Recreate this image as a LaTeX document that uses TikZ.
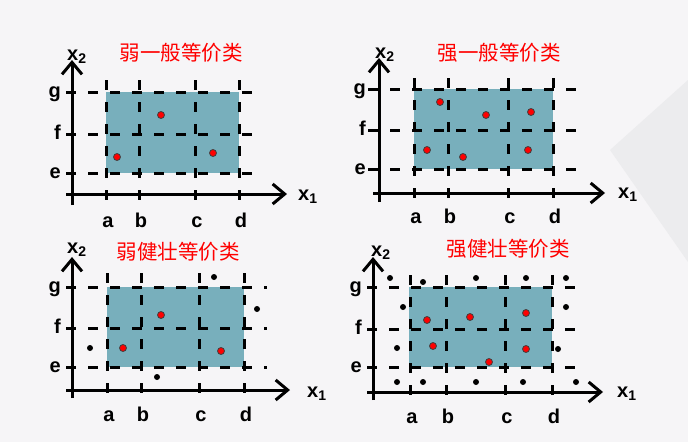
\documentclass[tikz,border=0pt]{standalone}
\usepackage{fontspec}
\usepackage{tikz}
\usepackage{xcolor}
\usetikzlibrary{arrows.meta}
\setmainfont{Liberation Sans}
\newfontfamily\cjk{Noto Sans CJK SC}
\definecolor{regioncol}{RGB}{120,175,188}
\definecolor{bgcol}{RGB}{246,245,247}
\definecolor{shadecol}{RGB}{236,236,238}

\begin{document}
\begin{tikzpicture}[x=1pt,y=-1pt,
		axis/.style={line width=3pt,-{Straight Barb[length=12pt,width=20pt]}},
		dline/.style={line width=3pt,dash pattern=on 10pt off 12pt},
		region/.style={fill=regioncol},
		lbl/.style={font=\bfseries\fontsize{20}{20}\selectfont,inner sep=0pt},
		ttl/.style={font=\cjk\fontsize{20.5}{20.5}\selectfont,text=red},
		rdot/.style={fill=red,draw=black!75,line width=0.8pt},
		bdot/.style={fill=black}]
		\useasboundingbox (0,0) rectangle (688,442);
		\fill[bgcol] (0,0) rectangle (688,442);
		\fill[shadecol] (610,150) -- (688,80) -- (688,262) -- cycle;
		% weak normal
		\fill[region] (106,92) rectangle (239,173);
		\draw[dline] (66,92)--(253,92);
		\draw[dline] (66,134)--(253,134);
		\draw[dline] (66,173)--(253,173);
		\draw[dline] (106,80)--(106,203);
		\draw[dline] (139,80)--(139,203);
		\draw[dline] (195,80)--(195,203);
		\draw[dline] (239,80)--(239,203);
		\draw[axis] (72,205)--(72,60);
		\draw[axis] (66,194)--(287,194);
		\node[lbl,anchor=base] (a1) at (108,227) {a};
		\node[lbl,anchor=base] (b1) at (141,227) {b};
		\node[lbl,anchor=base] (c1) at (197,227) {c};
		\node[lbl,anchor=base] (d1) at (241,227) {d};
		\node[lbl,anchor=base east] (g1) at (61,97) {g};
		\node[lbl,anchor=base east] (f1) at (61,139) {f};
		\node[lbl,anchor=base east] (e1) at (61,178) {e};
		\node[lbl,anchor=base west] (xa1) at (298,200) {x\textsubscript{1}};
		\node[lbl,anchor=base west] (xb1) at (67,60) {x\textsubscript{2}};
		\node[ttl] (t1) at (181,53) {弱一般等价类};
		\filldraw[rdot] (117,157) circle (3.5pt);
		\filldraw[rdot] (161,115) circle (3.5pt);
		\filldraw[rdot] (213,153) circle (3.5pt);
		% strong normal
		\fill[region] (414,89) rectangle (553,169);
		\draw[dline] (368,89)--(577,89);
		\draw[dline] (368,130)--(577,130);
		\draw[dline] (368,169)--(577,169);
		\draw[dline] (414,78)--(414,202);
		\draw[dline] (448,78)--(448,202);
		\draw[dline] (508,78)--(508,202);
		\draw[dline] (553,78)--(553,202);
		\draw[axis] (379,202)--(379,58);
		\draw[axis] (373,193)--(605,193);
		\node[lbl,anchor=base] (a2) at (416,223) {a};
		\node[lbl,anchor=base] (b2) at (450,223) {b};
		\node[lbl,anchor=base] (c2) at (510,223) {c};
		\node[lbl,anchor=base] (d2) at (555,223) {d};
		\node[lbl,anchor=base east] (g2) at (366,94) {g};
		\node[lbl,anchor=base east] (f2) at (366,135) {f};
		\node[lbl,anchor=base east] (e2) at (366,174) {e};
		\node[lbl,anchor=base west] (xa2) at (618,198) {x\textsubscript{1}};
		\node[lbl,anchor=base west] (xb2) at (375,58) {x\textsubscript{2}};
		\node[ttl] (t2) at (499,53) {强一般等价类};
		\filldraw[rdot] (440,102) circle (3.5pt);
		\filldraw[rdot] (486,115) circle (3.5pt);
		\filldraw[rdot] (531,112) circle (3.5pt);
		\filldraw[rdot] (427,150) circle (3.5pt);
		\filldraw[rdot] (463,157) circle (3.5pt);
		\filldraw[rdot] (528,150) circle (3.5pt);
		% weak robust
		\fill[region] (107,287) rectangle (244,367);
		\draw[dline] (66,287)--(267,287);
		\draw[dline] (66,328)--(267,328);
		\draw[dline] (66,367)--(267,367);
		\draw[dline] (107,273)--(107,398);
		\draw[dline] (141,273)--(141,398);
		\draw[dline] (199,273)--(199,398);
		\draw[dline] (244,273)--(244,398);
		\draw[axis] (72,398)--(72,257);
		\draw[axis] (66,390)--(290,390);
		\node[lbl,anchor=base] (a3) at (109,421) {a};
		\node[lbl,anchor=base] (b3) at (143,421) {b};
		\node[lbl,anchor=base] (c3) at (201,421) {c};
		\node[lbl,anchor=base] (d3) at (246,421) {d};
		\node[lbl,anchor=base east] (g3) at (61,292) {g};
		\node[lbl,anchor=base east] (f3) at (61,333) {f};
		\node[lbl,anchor=base east] (e3) at (61,372) {e};
		\node[lbl,anchor=base west] (xa3) at (307,397) {x\textsubscript{1}};
		\node[lbl,anchor=base west] (xb3) at (67,253) {x\textsubscript{2}};
		\node[ttl] (t3) at (178,252) {弱健壮等价类};
		\filldraw[rdot] (123,348) circle (3.5pt);
		\filldraw[rdot] (161,315) circle (3.5pt);
		\filldraw[rdot] (221,351) circle (3.5pt);
		\fill[bdot] (90,348) circle (3pt);
		\fill[bdot] (157,377) circle (3pt);
		\fill[bdot] (214,277) circle (3pt);
		\fill[bdot] (257,309) circle (3pt);
		% strong robust
		\fill[region] (409,287) rectangle (552,367);
		\draw[dline] (367,287)--(575,287);
		\draw[dline] (367,329)--(575,329);
		\draw[dline] (367,367)--(575,367);
		\draw[dline] (410,275)--(410,400);
		\draw[dline] (446,275)--(446,400);
		\draw[dline] (505,275)--(505,400);
		\draw[dline] (552,275)--(552,400);
		\draw[axis] (373,400)--(373,257);
		\draw[axis] (367,392)--(603,392);
		\node[lbl,anchor=base] (a4) at (412,423) {a};
		\node[lbl,anchor=base] (b4) at (448,423) {b};
		\node[lbl,anchor=base] (c4) at (507,423) {c};
		\node[lbl,anchor=base] (d4) at (554,423) {d};
		\node[lbl,anchor=base east] (g4) at (362,292) {g};
		\node[lbl,anchor=base east] (f4) at (362,334) {f};
		\node[lbl,anchor=base east] (e4) at (362,372) {e};
		\node[lbl,anchor=base west] (xa4) at (617,397) {x\textsubscript{1}};
		\node[lbl,anchor=base west] (xb4) at (371,256) {x\textsubscript{2}};
		\node[ttl] (t4) at (508,249) {强健壮等价类};
		\filldraw[rdot] (427,320) circle (3.5pt);
		\filldraw[rdot] (470,317) circle (3.5pt);
		\filldraw[rdot] (526,313) circle (3.5pt);
		\filldraw[rdot] (433,346) circle (3.5pt);
		\filldraw[rdot] (526,349) circle (3.5pt);
		\filldraw[rdot] (489,362) circle (3.5pt);
		\fill[bdot] (390,278) circle (3pt);
		\fill[bdot] (423,282) circle (3pt);
		\fill[bdot] (476,278) circle (3pt);
		\fill[bdot] (526,278) circle (3pt);
		\fill[bdot] (566,278) circle (3pt);
		\fill[bdot] (403,307) circle (3pt);
		\fill[bdot] (566,307) circle (3pt);
		\fill[bdot] (397,348) circle (3pt);
		\fill[bdot] (558,349) circle (3pt);
		\fill[bdot] (397,382) circle (3pt);
		\fill[bdot] (423,382) circle (3pt);
		\fill[bdot] (476,382) circle (3pt);
		\fill[bdot] (523,382) circle (3pt);
		\fill[bdot] (576,382) circle (3pt);
	\end{tikzpicture}
\end{document}
